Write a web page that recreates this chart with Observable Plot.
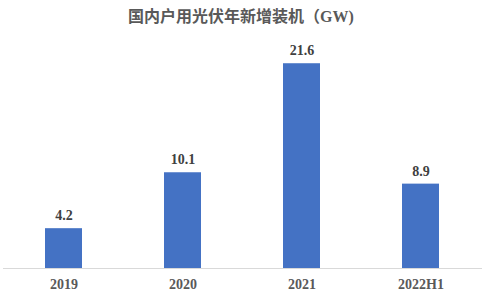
<!DOCTYPE html>
<html>
<head>
<meta charset="utf-8">
<script src="https://cdn.jsdelivr.net/npm/d3@7"></script>
<script src="https://cdn.jsdelivr.net/npm/@observablehq/plot@0.6"></script>
<style>
  html, body { margin: 0; padding: 0; background: #fff; }
  #title {
    width: 489px; height: 30px; box-sizing: border-box;
    padding-top: 4px; padding-right: 7px; line-height: 26px;
    text-align: center; font-size: 16px; font-weight: bold; color: #595959;
    font-family: "Liberation Serif", "Noto Sans CJK SC", serif;
  }
</style>
</head>
<body>
<div id="title">国内户用光伏年新增装机（GW)</div>
<div id="chart"></div>
<script>
const categories = ["2019", "2020", "2021", "2022H1"];
const values = [4.2, 10.1, 21.6, 8.9];
const labels = ["4.2", "10.1", "21.6", "8.9"];

const data = categories.map((c, i) => ({cat: c, value: values[i], label: labels[i]}));
const serif = "'Liberation Serif', serif";

const chart = Plot.plot({
  width: 489,
  height: 271,
  marginLeft: 3,
  marginRight: 7,
  marginTop: 1,
  marginBottom: 33,
  style: {fontFamily: serif, fontSize: "14px", fontWeight: "bold", color: "#595959", background: "#fff"},
  x: {domain: categories, paddingInner: 0.685, paddingOuter: 0.3425, label: null},
  y: {domain: [0, 25], axis: null},
  marks: [
    Plot.barY(data, {x: "cat", y: "value", fill: "#4472C4"}),
    Plot.ruleY([0], {stroke: "#d9d9d9", strokeWidth: 1}),
    Plot.text(data, {x: "cat", y: "value", text: "label", dy: -13, fill: "#404040", fontSize: 14, fontFamily: serif}),
    Plot.axisX({tickSize: 0, tickPadding: 11, fontSize: 14, fontFamily: serif, label: null})
  ]
});
document.getElementById("chart").appendChild(chart);
</script>
</body>
</html>
